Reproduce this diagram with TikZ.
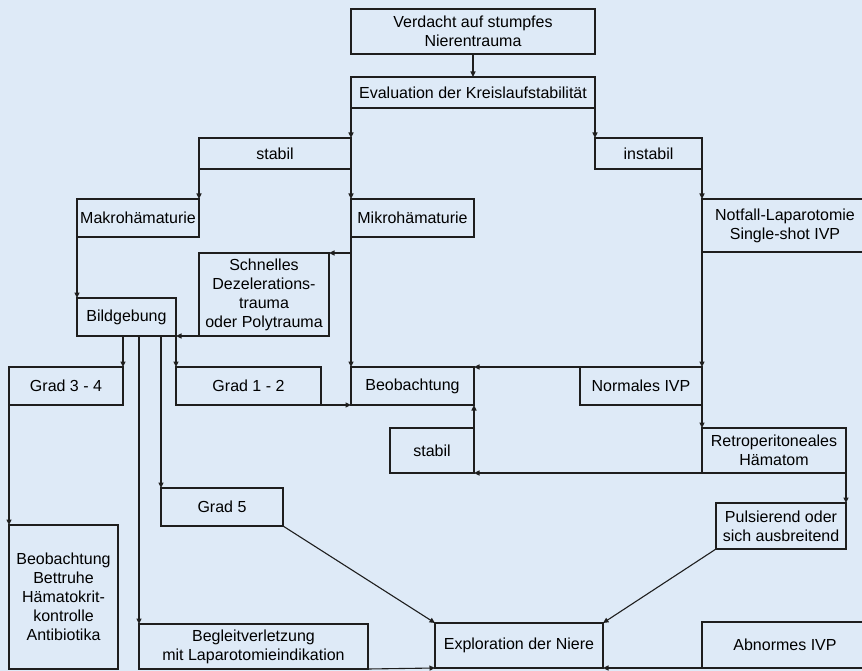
\documentclass[tikz,border=0pt]{standalone}
\usepackage{fontspec}
\setmainfont{Liberation Sans}
\usetikzlibrary{calc,positioning,arrows.meta}
\definecolor{bgblue}{RGB}{222,234,247}
\definecolor{lineg}{RGB}{30,30,30}

\begin{document}
\begin{tikzpicture}[x=1pt, y=-1pt,
  box/.style={draw=lineg, line width=1.1pt, inner sep=1pt, outer sep=0pt,
    align=center, anchor=north west, font=\fontsize{16}{19}\selectfont},
  arr/.style={-{Triangle[length=5.5pt, width=5pt]}, draw=lineg, line width=1.1pt}]

  % Background
  \path[use as bounding box, fill=bgblue] (0,0) rectangle (862,671);

  % Boxes
  \node[box, minimum width=244pt, minimum height=45pt] (verdacht) at (351,9) {Verdacht auf stumpfes\\Nierentrauma};
  \node[box, minimum width=244pt, minimum height=31pt] (eval) at (351,77) {Evaluation der Kreislaufstabilität};
  \node[box, minimum width=152pt, minimum height=31pt] (stabilA) at (199,138) {stabil};
  \node[box, minimum width=107pt, minimum height=31pt] (instabil) at (595,138) {instabil};
  \node[box, minimum width=122pt, minimum height=38pt] (makro) at (77,199) {Makrohämaturie};
  \node[box, minimum width=123pt, minimum height=38pt] (mikro) at (351,199) {Mikrohämaturie};
  \node[box, minimum width=166pt, minimum height=53pt] (notfall) at (702,199) {Notfall-Laparotomie\\Single-shot IVP};
  \node[box, minimum width=130pt, minimum height=83pt] (schnell) at (199,253) {Schnelles\\Dezelerations-\\trauma\\oder Polytrauma};
  \node[box, minimum width=99pt, minimum height=38pt] (bild) at (77,298) {Bildgebung};
  \node[box, minimum width=114pt, minimum height=38pt] (grad34) at (9,367) {Grad 3 - 4};
  \node[box, minimum width=145pt, minimum height=38pt] (grad12) at (176,367) {Grad 1 - 2};
  \node[box, minimum width=123pt, minimum height=38pt] (beob) at (351,367) {Beobachtung};
  \node[box, minimum width=122pt, minimum height=38pt] (normal) at (580,367) {Normales IVP};
  \node[box, minimum width=84pt, minimum height=45pt] (stabilB) at (390,428) {stabil};
  \node[box, minimum width=144pt, minimum height=45pt] (retro) at (702,428) {Retroperitoneales\\Hämatom};
  \node[box, minimum width=122pt, minimum height=38pt] (grad5) at (161,488) {Grad 5};
  \node[box, minimum width=130pt, minimum height=46pt] (puls) at (716,503) {Pulsierend oder\\sich ausbreitend};
  \node[box, minimum width=109pt, minimum height=144pt] (beobB) at (9,525) {Beobachtung\\Bettruhe\\Hämatokrit-\\kontrolle\\Antibiotika};
  \node[box, minimum width=229pt, minimum height=45pt] (begleit) at (139,624) {Begleitverletzung\\mit Laparotomieindikation};
  \node[box, minimum width=168pt, minimum height=45pt] (expl) at (435,623) {Exploration der Niere};
  \node[box, minimum width=166pt, minimum height=46pt] (abnorm) at (702,622) {Abnormes IVP};

  % Corner to corner connectors
  \foreach \a/\b in {eval.south west/stabilA.north east, eval.south east/instabil.north west,
      stabilA.south west/makro.north east, stabilA.south east/mikro.north west,
      instabil.south east/notfall.north west, makro.south west/bild.north west,
      mikro.south west/beob.north west, schnell.south west/bild.south east,
      bild.south east/grad12.north west, grad12.south east/beob.south west,
      grad34.south west/beobB.north west, notfall.south west/normal.north east,
      normal.north west/beob.north east, normal.south east/retro.north west,
      retro.south west/stabilB.south east, stabilB.north east/beob.south east,
      retro.south east/puls.north east, puls.south west/expl.north east,
      grad5.south east/expl.north west, begleit.south east/expl.south west,
      abnorm.south west/expl.south east} {
    \draw[arr] (\a) -- (\b);
  }

  % Branches
  \draw[arr] (verdacht.south) -- (verdacht.south |- eval.north);
  \draw[arr] (schnell.north east -| mikro.south west) -- (schnell.north east);
  \draw[arr] (bild.south -| grad34.north east) -- (grad34.north east);
  \draw[arr] (bild.south -| grad5.north west) -- (grad5.north west);
  \draw[arr] (bild.south -| begleit.north west) -- (begleit.north west);
\end{tikzpicture}
\end{document}
